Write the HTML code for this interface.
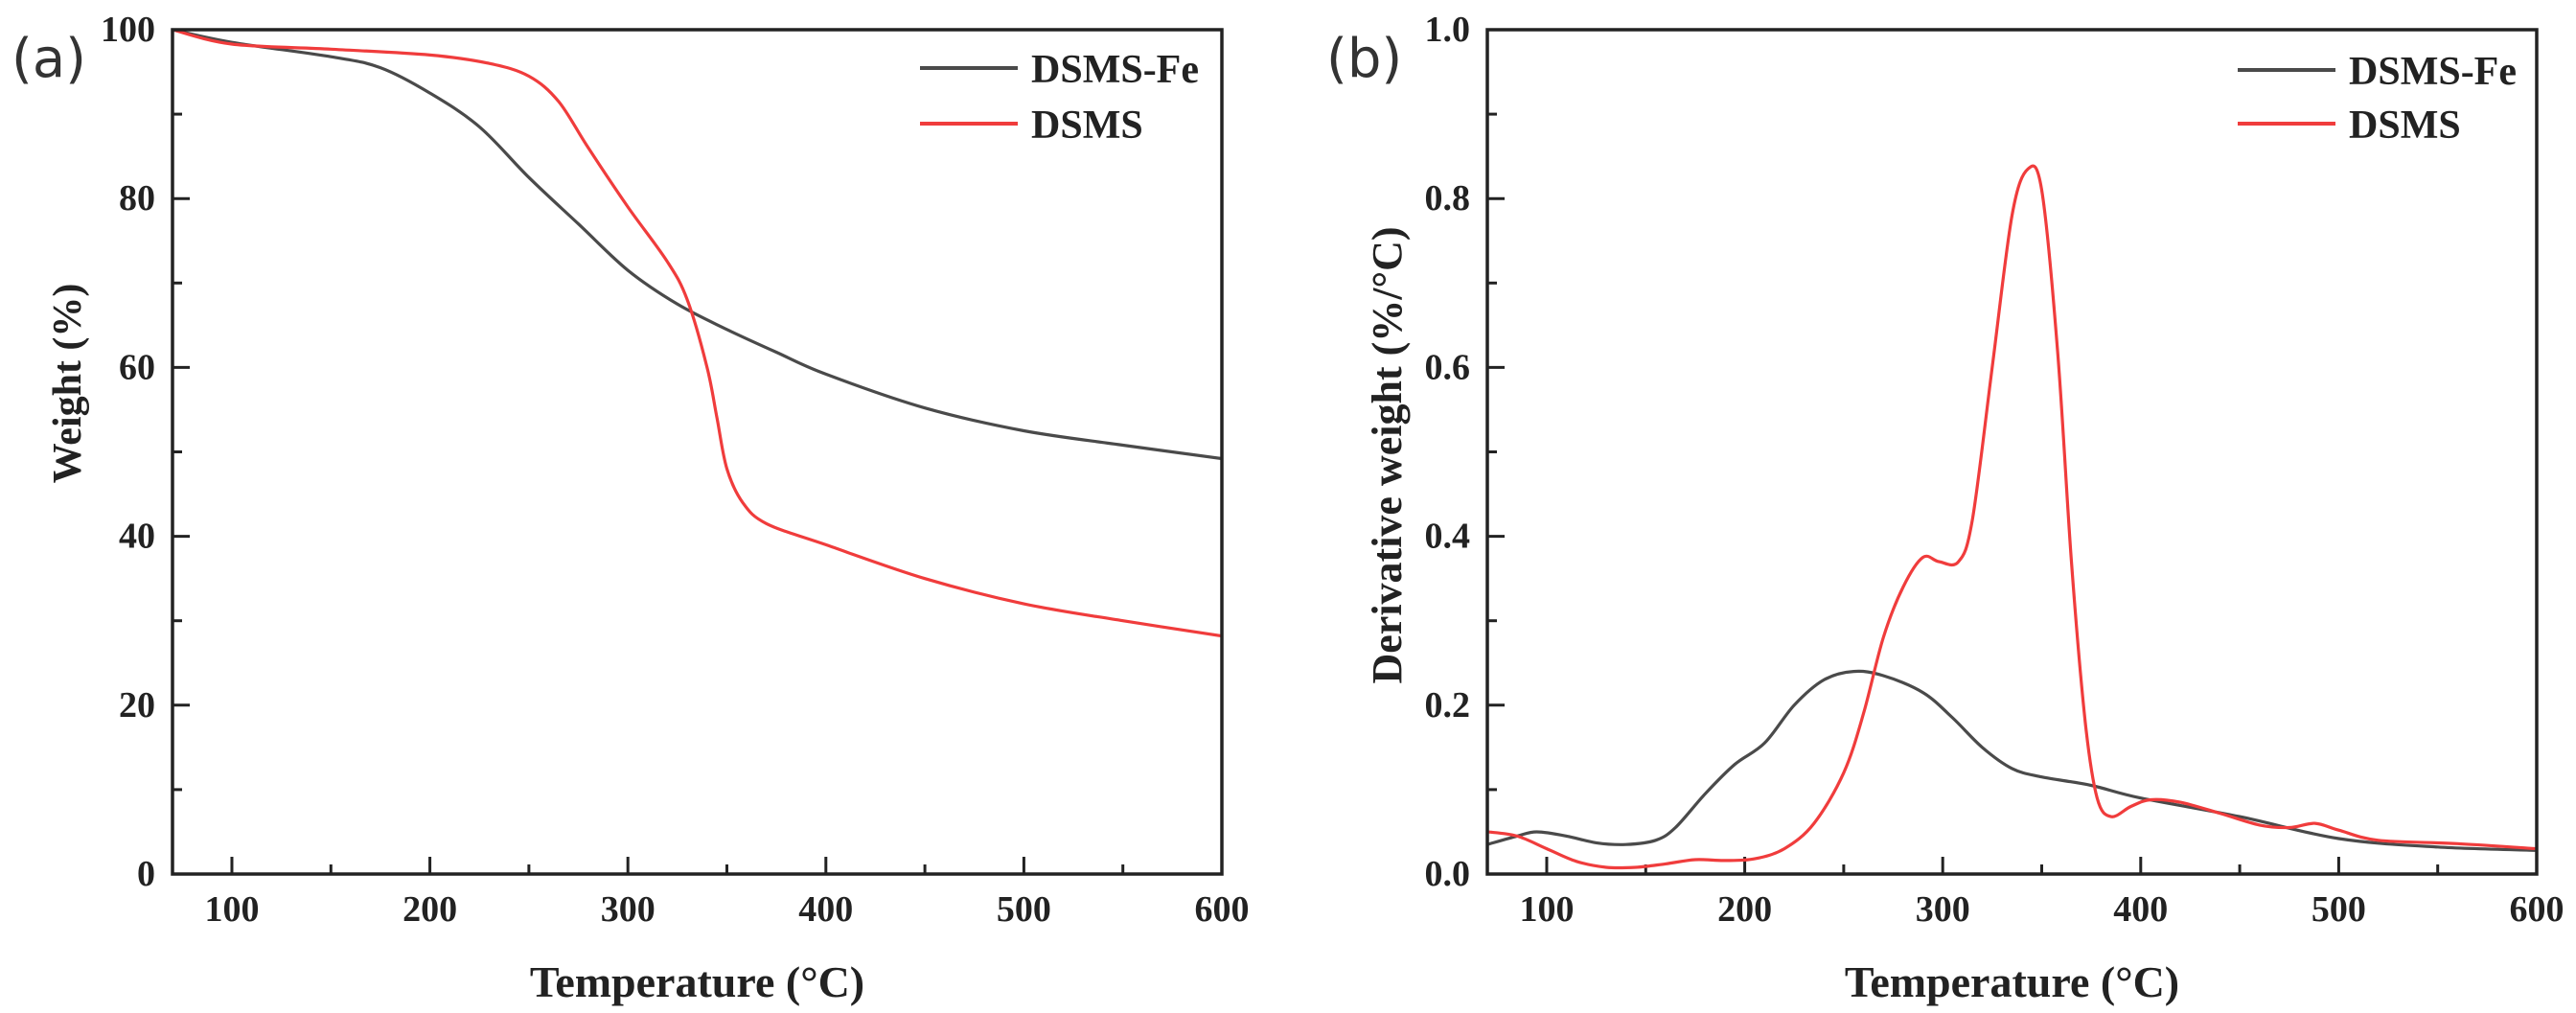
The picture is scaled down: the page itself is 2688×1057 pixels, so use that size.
<!DOCTYPE html>
<html><head><meta charset="utf-8"><style>
html,body{margin:0;padding:0;background:#fff;overflow:hidden}
svg{display:block}
text{font-family:"Liberation Serif",serif;font-weight:bold;fill:#222}
</style></head><body>
<svg id="fig" width="2688" height="1057" viewBox="0 0 2688 1057"></svg>
<script>
const tgaTemps = [70,100,150,175,200,225,250,275,300,325,350,375,400,450,500,550,600];
const tgaFe = [100,98.5,96.8,95.5,92.5,88.5,82.5,77,71.5,67.5,64.5,61.8,59.2,55.2,52.5,50.8,49.2];
const tgaDsmsTemps = [70,100,150,200,230,250,265,280,300,320,330,340,345,350,358,370,400,450,500,550,600];
const tgaDsms = [100,98.3,97.7,97.0,96,94.5,91.5,86,79,72.5,68,60,54,48,44,41.5,39,35,32,30,28.2];
const dtgFeTemps = [70,85,95,110,125,140,155,165,180,195,210,225,240,255,270,290,305,320,335,350,375,400,450,500,550,600];
const dtgFe = [0.035,0.045,0.05,0.045,0.037,0.035,0.04,0.055,0.095,0.13,0.155,0.2,0.23,0.24,0.235,0.215,0.185,0.15,0.125,0.115,0.105,0.09,0.068,0.042,0.032,0.028];
const dtgDsmsTemps = [70,85,100,115,130,145,160,175,190,205,220,235,250,260,270,280,290,298,308,315,325,335,343,350,358,365,372,378,385,395,405,420,440,460,475,488,500,520,560,600];
const dtgDsms = [0.05,0.045,0.03,0.015,0.008,0.008,0.012,0.017,0.016,0.018,0.03,0.06,0.12,0.19,0.28,0.34,0.375,0.37,0.37,0.42,0.6,0.78,0.835,0.81,0.62,0.37,0.18,0.09,0.068,0.08,0.088,0.085,0.072,0.058,0.055,0.06,0.052,0.04,0.036,0.03];
const xTicks = [100,200,300,400,500,600];
const yTicksA = [0,20,40,60,80,100];
const yTicksB = [0,0.2,0.4,0.6,0.8,1.0];

const NS='http://www.w3.org/2000/svg';
const svg=document.getElementById('fig');
function el(tag,attrs,parent){const e=document.createElementNS(NS,tag);for(const k in attrs)e.setAttribute(k,attrs[k]);(parent||svg).appendChild(e);return e;}
function smooth(pts){let d='M'+pts[0][0]+','+pts[0][1];for(let i=0;i<pts.length-1;i++){const p0=pts[Math.max(0,i-1)],p1=pts[i],p2=pts[i+1],p3=pts[Math.min(pts.length-1,i+2)];const c1x=p1[0]+(p2[0]-p0[0])/6,c1y=p1[1]+(p2[1]-p0[1])/6,c2x=p2[0]-(p3[0]-p1[0])/6,c2y=p2[1]-(p3[1]-p1[1])/6;d+=' C'+c1x.toFixed(1)+','+c1y.toFixed(1)+' '+c2x.toFixed(1)+','+c2y.toFixed(1)+' '+p2[0].toFixed(1)+','+p2[1].toFixed(1);}return d;}

function panel(cfg){
  const g=el('g',{});
  
  
  const L=cfg.L,R=cfg.R,T=31,B=912;
  const xs=v=>L+(v-70)/(600-70)*(R-L);
  const ys=v=>B-(v-cfg.ymin)/(cfg.ymax-cfg.ymin)*(B-T);
  for(let v=100;v<=600;v+=50){const major=v%100===0;const t=el('line',{x1:xs(v),x2:xs(v),y1:B,y2:B-(major?18:10),stroke:'#222','stroke-width':3},g);}
  xTicks.forEach(v=>{const t=el('text',{x:xs(v),y:961,'text-anchor':'middle','font-size':38},g);t.textContent=String(v);});
  const step=(cfg.ymax-cfg.ymin)/10;
  for(let i=1;i<10;i++){const v=cfg.ymin+i*step;const major=i%2===0;const t=el('line',{x1:L,x2:L+(major?18:10),y1:ys(v),y2:ys(v),stroke:'#222','stroke-width':3},g);}
  cfg.yTicks.forEach(v=>{const t=el('text',{x:L-18,y:ys(v)+12,'text-anchor':'end','font-size':38},g);t.textContent=cfg.fmt(v);});
  cfg.series.forEach(s=>{const pts=s.t.map((t,i)=>[xs(t),ys(s.v[i])]);const p=el('path',{d:smooth(pts),fill:'none',stroke:s.color,'stroke-width':3.2},g);});
  const fr=el('rect',{x:L,y:T,width:R-L,height:B-T,fill:'none',stroke:'#222','stroke-width':3.5},g);
  
  const xt=el('text',{x:(L+R)/2,y:1040,'text-anchor':'middle','font-size':46},g);xt.textContent='Temperature (°C)';
  
  const yt=el('text',{x:0,y:0,'text-anchor':'middle','font-size':cfg.ytfs,transform:'translate('+cfg.ytx+','+cfg.yty+') rotate(-90)'},g);yt.textContent=cfg.ytitle;
  
  const pl=el('text',{x:cfg.plx,y:80,'font-size':56,style:'font-family:"DejaVu Sans",sans-serif;font-weight:normal;fill:#333'},g);pl.textContent=cfg.label;
  
  cfg.series.forEach((s,i)=>{const y=cfg.legY[i];const ln=el('line',{x1:cfg.legX,x2:cfg.legX+102,y1:y,y2:y,stroke:s.color,'stroke-width':4},g);const tx=el('text',{x:cfg.legX+116,y:y+15,'font-size':42},g);tx.textContent=s.label;});
}
panel({name:'panel-a-tga',L:180,R:1275,ymin:0,ymax:100,yTicks:yTicksA,fmt:v=>String(v),ytitle:'Weight (%)',ytfs:42,ytx:84,yty:400,label:'(a)',plx:12,legX:960,legY:[71,129],
  series:[{name:'line-dsms-fe',label:'DSMS-Fe',color:'#4a4a4a',t:tgaTemps,v:tgaFe},{name:'line-dsms',label:'DSMS',color:'#f03c3c',t:tgaDsmsTemps,v:tgaDsms}]});
panel({name:'panel-b-dtg',L:1552,R:2647,ymin:0,ymax:1,yTicks:yTicksB,fmt:v=>v.toFixed(1),ytitle:'Derivative weight (%/°C)',ytfs:44,ytx:1462,yty:475,label:'(b)',plx:1384,legX:2335,legY:[73,129],
  series:[{name:'line-dsms-fe',label:'DSMS-Fe',color:'#4a4a4a',t:dtgFeTemps,v:dtgFe},{name:'line-dsms',label:'DSMS',color:'#f03c3c',t:dtgDsmsTemps,v:dtgDsms}]});
</script>
</body></html>
